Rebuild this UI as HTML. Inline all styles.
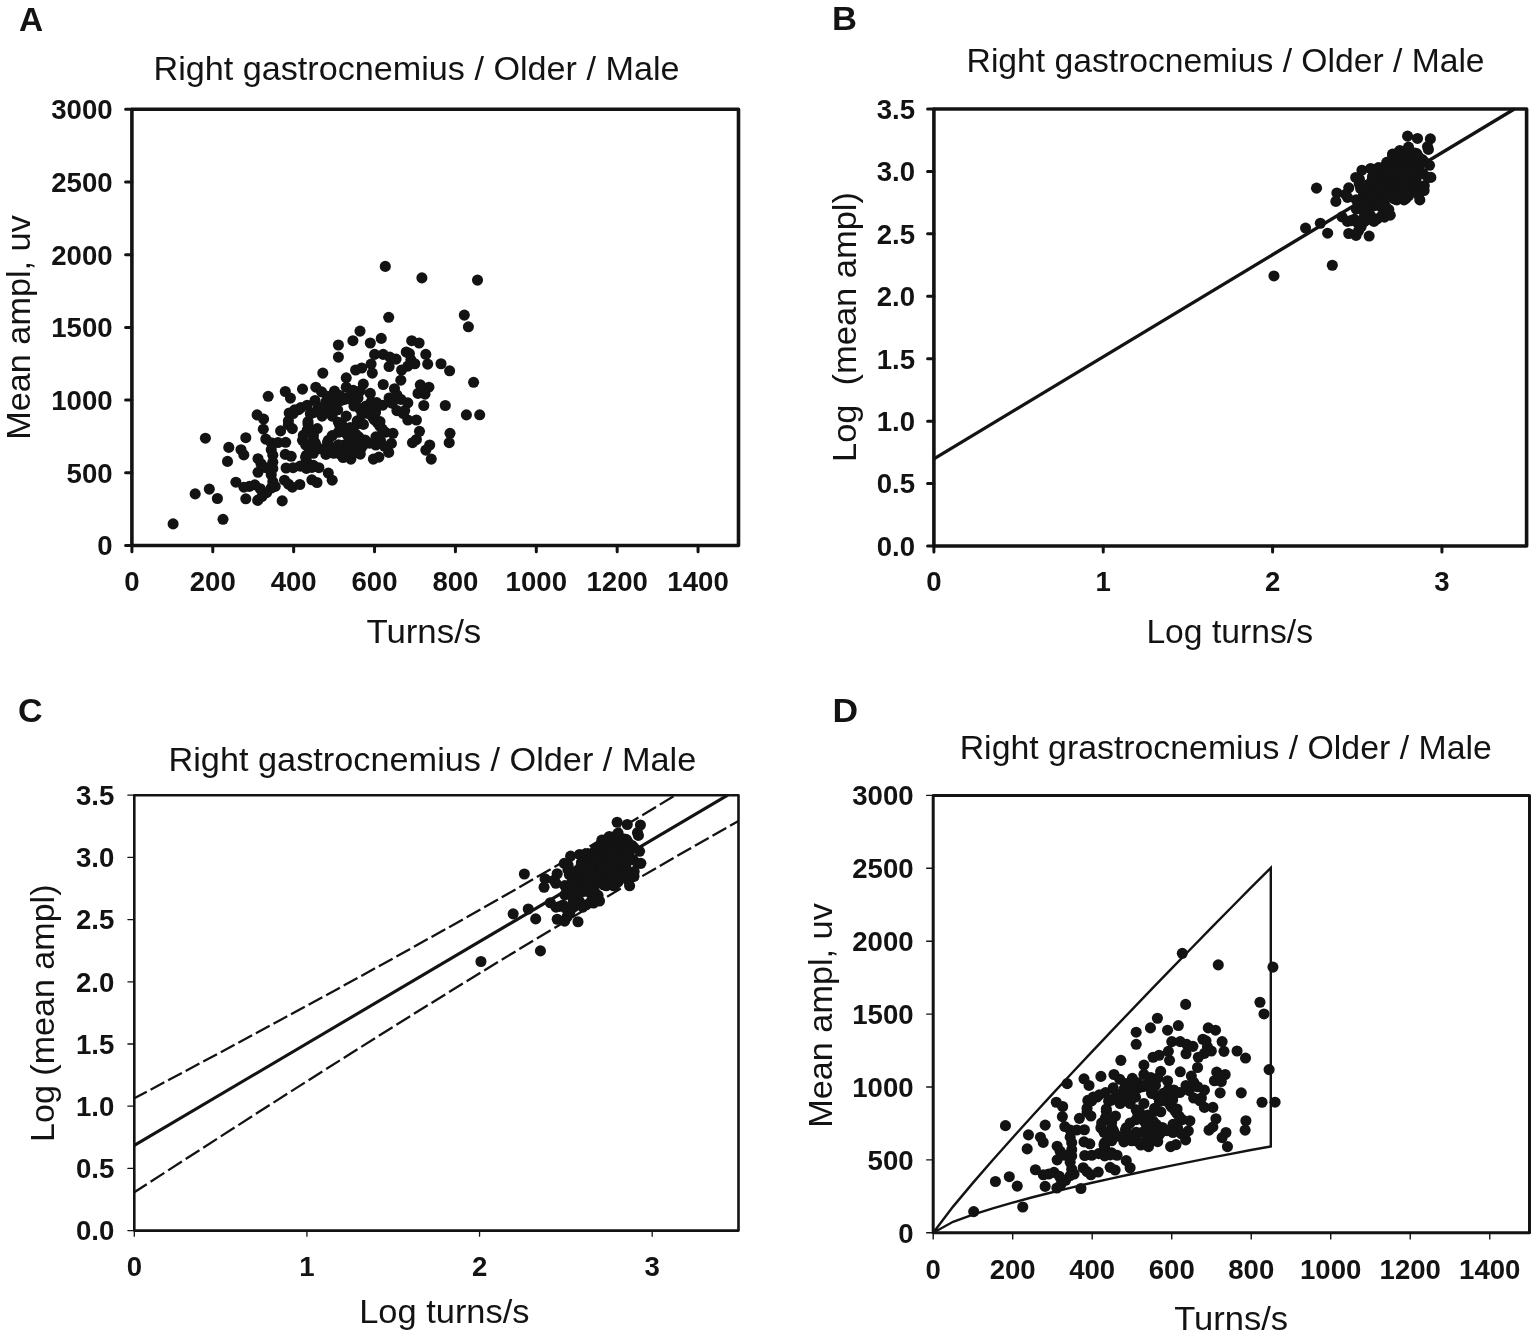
<!DOCTYPE html>
<html lang="en">
<head>
<meta charset="utf-8">
<title>Figure</title>
<style>
html,body{margin:0;padding:0;background:#fff;}
body{width:1536px;height:1336px;overflow:hidden;}
svg{display:block;}
svg text{font-family:"Liberation Sans",sans-serif;fill:#131313;}
</style>
</head>
<body>
<svg width="1536" height="1336" viewBox="0 0 1536 1336">
<rect width="1536" height="1336" fill="#ffffff"/>
<rect x="131.9" y="109.3" width="606.6" height="436.2" fill="none" stroke="#131313" stroke-width="3.6" stroke-linejoin="round"/>
<path d="M131.9 545.5h-6.3M131.9 472.8h-6.3M131.9 400.1h-6.3M131.9 327.4h-6.3M131.9 254.7h-6.3M131.9 182h-6.3M131.9 109.3h-6.3M131.9 545.5v6.3M212.78 545.5v6.3M293.66 545.5v6.3M374.54 545.5v6.3M455.42 545.5v6.3M536.3 545.5v6.3M617.18 545.5v6.3M698.06 545.5v6.3" fill="none" stroke="#131313" stroke-width="3.0" stroke-linecap="round"/>
<text x="112.6" y="555.35" font-size="27.6" font-weight="700" text-anchor="end" textLength="15.35" lengthAdjust="spacingAndGlyphs">0</text>
<text x="112.6" y="482.65" font-size="27.6" font-weight="700" text-anchor="end" textLength="46.05" lengthAdjust="spacingAndGlyphs">500</text>
<text x="112.6" y="409.95" font-size="27.6" font-weight="700" text-anchor="end" textLength="61.4" lengthAdjust="spacingAndGlyphs">1000</text>
<text x="112.6" y="337.25" font-size="27.6" font-weight="700" text-anchor="end" textLength="61.4" lengthAdjust="spacingAndGlyphs">1500</text>
<text x="112.6" y="264.55" font-size="27.6" font-weight="700" text-anchor="end" textLength="61.4" lengthAdjust="spacingAndGlyphs">2000</text>
<text x="112.6" y="191.85" font-size="27.6" font-weight="700" text-anchor="end" textLength="61.4" lengthAdjust="spacingAndGlyphs">2500</text>
<text x="112.6" y="119.15" font-size="27.6" font-weight="700" text-anchor="end" textLength="61.4" lengthAdjust="spacingAndGlyphs">3000</text>
<text x="131.9" y="590.9" font-size="27.6" font-weight="700" text-anchor="middle" textLength="15.35" lengthAdjust="spacingAndGlyphs">0</text>
<text x="212.78" y="590.9" font-size="27.6" font-weight="700" text-anchor="middle" textLength="46.05" lengthAdjust="spacingAndGlyphs">200</text>
<text x="293.66" y="590.9" font-size="27.6" font-weight="700" text-anchor="middle" textLength="46.05" lengthAdjust="spacingAndGlyphs">400</text>
<text x="374.54" y="590.9" font-size="27.6" font-weight="700" text-anchor="middle" textLength="46.05" lengthAdjust="spacingAndGlyphs">600</text>
<text x="455.42" y="590.9" font-size="27.6" font-weight="700" text-anchor="middle" textLength="46.05" lengthAdjust="spacingAndGlyphs">800</text>
<text x="536.3" y="590.9" font-size="27.6" font-weight="700" text-anchor="middle" textLength="61.4" lengthAdjust="spacingAndGlyphs">1000</text>
<text x="617.18" y="590.9" font-size="27.6" font-weight="700" text-anchor="middle" textLength="61.4" lengthAdjust="spacingAndGlyphs">1200</text>
<text x="698.06" y="590.9" font-size="27.6" font-weight="700" text-anchor="middle" textLength="61.4" lengthAdjust="spacingAndGlyphs">1400</text>
<g fill="#131313"><circle cx="173.1" cy="523.9" r="5.55"/><circle cx="223" cy="519.3" r="5.55"/><circle cx="195.2" cy="493.9" r="5.55"/><circle cx="209.3" cy="489.1" r="5.55"/><circle cx="217.4" cy="498.5" r="5.55"/><circle cx="205.4" cy="438.2" r="5.55"/><circle cx="228.8" cy="447.4" r="5.55"/><circle cx="227.5" cy="461.4" r="5.55"/><circle cx="245.8" cy="437.7" r="5.55"/><circle cx="241" cy="449.7" r="5.55"/><circle cx="243.8" cy="454.9" r="5.55"/><circle cx="268.2" cy="396.3" r="5.55"/><circle cx="257.1" cy="414.9" r="5.55"/><circle cx="263.6" cy="419.1" r="5.55"/><circle cx="263.3" cy="429.2" r="5.55"/><circle cx="235.9" cy="482.2" r="5.55"/><circle cx="245.8" cy="498.8" r="5.55"/><circle cx="257.7" cy="500.4" r="5.55"/><circle cx="265.8" cy="439.1" r="5.55"/><circle cx="271.25" cy="442.7" r="5.55"/><circle cx="278" cy="442.5" r="5.55"/><circle cx="285.7" cy="442.3" r="5.55"/><circle cx="280.6" cy="430.9" r="5.55"/><circle cx="288.4" cy="424.7" r="5.55"/><circle cx="292.3" cy="428.6" r="5.55"/><circle cx="271.25" cy="449.7" r="5.55"/><circle cx="272.8" cy="455.2" r="5.55"/><circle cx="258" cy="458.7" r="5.55"/><circle cx="261" cy="463.75" r="5.55"/><circle cx="258" cy="472.3" r="5.55"/><circle cx="265.8" cy="467.7" r="5.55"/><circle cx="272.8" cy="462.2" r="5.55"/><circle cx="272.8" cy="468.4" r="5.55"/><circle cx="271.25" cy="474.7" r="5.55"/><circle cx="285.3" cy="454.4" r="5.55"/><circle cx="291.2" cy="456.3" r="5.55"/><circle cx="286.1" cy="468" r="5.55"/><circle cx="293.1" cy="467.7" r="5.55"/><circle cx="300.2" cy="466.1" r="5.55"/><circle cx="306.4" cy="468.4" r="5.55"/><circle cx="306.4" cy="460.6" r="5.55"/><circle cx="306.4" cy="455.2" r="5.55"/><circle cx="313.4" cy="465.3" r="5.55"/><circle cx="318.9" cy="467.7" r="5.55"/><circle cx="328.3" cy="473.1" r="5.55"/><circle cx="332.2" cy="480.2" r="5.55"/><circle cx="311.9" cy="479.8" r="5.55"/><circle cx="317" cy="482.5" r="5.55"/><circle cx="284.5" cy="480.2" r="5.55"/><circle cx="288.4" cy="484.1" r="5.55"/><circle cx="292.3" cy="487.2" r="5.55"/><circle cx="299.8" cy="484.5" r="5.55"/><circle cx="282.2" cy="500.9" r="5.55"/><circle cx="261.9" cy="496.6" r="5.55"/><circle cx="266.6" cy="492.7" r="5.55"/><circle cx="271.25" cy="488" r="5.55"/><circle cx="275.2" cy="486.4" r="5.55"/><circle cx="272.8" cy="481.7" r="5.55"/><circle cx="254.8" cy="484.8" r="5.55"/><circle cx="249.4" cy="486.4" r="5.55"/><circle cx="243.9" cy="487.2" r="5.55"/><circle cx="260.3" cy="488.75" r="5.55"/><circle cx="302.5" cy="440.3" r="5.55"/><circle cx="307.2" cy="430.2" r="5.55"/><circle cx="317.3" cy="428.6" r="5.55"/><circle cx="308" cy="423.9" r="5.55"/><circle cx="315" cy="442.7" r="5.55"/><circle cx="309.5" cy="448.9" r="5.55"/><circle cx="328.3" cy="440.3" r="5.55"/><circle cx="332.2" cy="435.6" r="5.55"/><circle cx="325.9" cy="454.4" r="5.55"/><circle cx="333.75" cy="448.9" r="5.55"/><circle cx="343.1" cy="457.5" r="5.55"/><circle cx="350.9" cy="459.1" r="5.55"/><circle cx="354.8" cy="452.8" r="5.55"/><circle cx="349.4" cy="443.4" r="5.55"/><circle cx="341.6" cy="423.9" r="5.55"/><circle cx="357.2" cy="423.9" r="5.55"/><circle cx="450" cy="433.3" r="5.55"/><circle cx="449.2" cy="442.7" r="5.55"/><circle cx="419.5" cy="431.3" r="5.55"/><circle cx="412.5" cy="442.7" r="5.55"/><circle cx="416.4" cy="439.5" r="5.55"/><circle cx="429.7" cy="445" r="5.55"/><circle cx="425.8" cy="450.1" r="5.55"/><circle cx="431.25" cy="459.1" r="5.55"/><circle cx="373.4" cy="459.1" r="5.55"/><circle cx="378.9" cy="457.1" r="5.55"/><circle cx="388.7" cy="452.4" r="5.55"/><circle cx="391.4" cy="443.4" r="5.55"/><circle cx="393" cy="433.3" r="5.55"/><circle cx="407.8" cy="420" r="5.55"/><circle cx="416.4" cy="420" r="5.55"/><circle cx="375.8" cy="445" r="5.55"/><circle cx="361.7" cy="447.3" r="5.55"/><circle cx="285.3" cy="391.5" r="5.55"/><circle cx="290.4" cy="398.1" r="5.55"/><circle cx="302.5" cy="389.1" r="5.55"/><circle cx="315.8" cy="387.2" r="5.55"/><circle cx="321.6" cy="391.9" r="5.55"/><circle cx="322.8" cy="373.1" r="5.55"/><circle cx="338.4" cy="345" r="5.55"/><circle cx="338.4" cy="357.1" r="5.55"/><circle cx="352.9" cy="340.7" r="5.55"/><circle cx="360" cy="331.1" r="5.55"/><circle cx="346.25" cy="377.8" r="5.55"/><circle cx="355.6" cy="370" r="5.55"/><circle cx="334.5" cy="391.1" r="5.55"/><circle cx="346.25" cy="387.2" r="5.55"/><circle cx="353.3" cy="390.3" r="5.55"/><circle cx="315" cy="400.5" r="5.55"/><circle cx="307.2" cy="405.2" r="5.55"/><circle cx="300.9" cy="407.5" r="5.55"/><circle cx="294.7" cy="409.8" r="5.55"/><circle cx="289.2" cy="413" r="5.55"/><circle cx="288.4" cy="420.8" r="5.55"/><circle cx="308" cy="421.6" r="5.55"/><circle cx="310.3" cy="413.75" r="5.55"/><circle cx="318.1" cy="408.3" r="5.55"/><circle cx="325.9" cy="402" r="5.55"/><circle cx="322" cy="416.1" r="5.55"/><circle cx="332.2" cy="416.1" r="5.55"/><circle cx="337.7" cy="409.8" r="5.55"/><circle cx="340.8" cy="400.5" r="5.55"/><circle cx="346.25" cy="416.1" r="5.55"/><circle cx="349.4" cy="396.6" r="5.55"/><circle cx="355.6" cy="398.1" r="5.55"/><circle cx="357.2" cy="420.8" r="5.55"/><circle cx="359.5" cy="408.3" r="5.55"/><circle cx="338.4" cy="422.3" r="5.55"/><circle cx="370.3" cy="343" r="5.55"/><circle cx="381.25" cy="338.4" r="5.55"/><circle cx="388.7" cy="317.3" r="5.55"/><circle cx="411.7" cy="340.7" r="5.55"/><circle cx="419.1" cy="343" r="5.55"/><circle cx="468.4" cy="326.8" r="5.55"/><circle cx="374.6" cy="354.4" r="5.55"/><circle cx="383.2" cy="354.4" r="5.55"/><circle cx="389.8" cy="357.1" r="5.55"/><circle cx="396.1" cy="359.1" r="5.55"/><circle cx="389.1" cy="366.5" r="5.55"/><circle cx="371.1" cy="364.1" r="5.55"/><circle cx="372.3" cy="373.1" r="5.55"/><circle cx="361.7" cy="368" r="5.55"/><circle cx="406.25" cy="352" r="5.55"/><circle cx="409.4" cy="353.6" r="5.55"/><circle cx="410.9" cy="359.8" r="5.55"/><circle cx="414.8" cy="363.75" r="5.55"/><circle cx="407.8" cy="366.1" r="5.55"/><circle cx="401.6" cy="370" r="5.55"/><circle cx="400.8" cy="380.2" r="5.55"/><circle cx="425.8" cy="354.4" r="5.55"/><circle cx="427.7" cy="364.1" r="5.55"/><circle cx="441" cy="363.75" r="5.55"/><circle cx="449.6" cy="370.8" r="5.55"/><circle cx="383.2" cy="384.5" r="5.55"/><circle cx="363.3" cy="384.1" r="5.55"/><circle cx="420.3" cy="384.8" r="5.55"/><circle cx="428.9" cy="387.2" r="5.55"/><circle cx="418" cy="393.4" r="5.55"/><circle cx="425" cy="394.2" r="5.55"/><circle cx="423.8" cy="405.5" r="5.55"/><circle cx="445.3" cy="405.5" r="5.55"/><circle cx="466.4" cy="414.9" r="5.55"/><circle cx="473.6" cy="382.3" r="5.55"/><circle cx="394.5" cy="388.75" r="5.55"/><circle cx="396.9" cy="395" r="5.55"/><circle cx="389.1" cy="398.1" r="5.55"/><circle cx="382.8" cy="405.2" r="5.55"/><circle cx="370.3" cy="393.4" r="5.55"/><circle cx="407.8" cy="402.8" r="5.55"/><circle cx="404.7" cy="410.6" r="5.55"/><circle cx="396.9" cy="410.6" r="5.55"/><circle cx="358" cy="398" r="5.55"/><circle cx="354" cy="406" r="5.55"/><circle cx="366" cy="406" r="5.55"/><circle cx="362" cy="414" r="5.55"/><circle cx="373" cy="417.7" r="5.55"/><circle cx="380" cy="421.6" r="5.55"/><circle cx="385.3" cy="266.4" r="5.55"/><circle cx="421.9" cy="277.9" r="5.55"/><circle cx="477.5" cy="280.1" r="5.55"/><circle cx="464.3" cy="315.1" r="5.55"/><circle cx="479.7" cy="414.8" r="5.55"/><circle cx="403.3" cy="413.5" r="5.55"/><circle cx="350.9" cy="399.4" r="5.55"/><circle cx="298.6" cy="409.6" r="5.55"/><circle cx="293.1" cy="413.5" r="5.55"/><circle cx="313.4" cy="412.7" r="5.55"/><circle cx="363.4" cy="424.4" r="5.55"/><circle cx="368.1" cy="413.5" r="5.55"/><circle cx="374.4" cy="419.75" r="5.55"/><circle cx="379.8" cy="426" r="5.55"/><circle cx="385.3" cy="432.25" r="5.55"/><circle cx="375.9" cy="436.9" r="5.55"/><circle cx="365" cy="440" r="5.55"/><circle cx="333.75" cy="453.3" r="5.55"/><circle cx="319.7" cy="448.7" r="5.55"/><circle cx="313.4" cy="453.3" r="5.55"/><circle cx="305.6" cy="457.25" r="5.55"/><circle cx="313.4" cy="440.1" r="5.55"/><circle cx="310.3" cy="446.3" r="5.55"/><circle cx="327.5" cy="442.4" r="5.55"/><circle cx="343.1" cy="429.1" r="5.55"/><circle cx="347.8" cy="435.4" r="5.55"/><circle cx="358.75" cy="436.9" r="5.55"/><circle cx="311.9" cy="467.4" r="5.55"/><circle cx="330.6" cy="397.1" r="5.55"/><circle cx="340" cy="395.5" r="5.55"/><circle cx="326.7" cy="408.8" r="5.55"/><circle cx="333.75" cy="410.4" r="5.55"/><circle cx="321.25" cy="407.25" r="5.55"/><circle cx="344.7" cy="399.4" r="5.55"/><circle cx="365" cy="411.2" r="5.55"/><circle cx="377.5" cy="422.9" r="5.55"/><circle cx="382.2" cy="429.1" r="5.55"/><circle cx="371.25" cy="401.8" r="5.55"/><circle cx="375.9" cy="408.8" r="5.55"/><circle cx="340" cy="426" r="5.55"/><circle cx="344.7" cy="432.25" r="5.55"/><circle cx="338.4" cy="432.25" r="5.55"/><circle cx="349.4" cy="438.5" r="5.55"/><circle cx="355.6" cy="443.2" r="5.55"/><circle cx="344.7" cy="444.75" r="5.55"/><circle cx="338.4" cy="444.75" r="5.55"/><circle cx="350.9" cy="448.7" r="5.55"/><circle cx="357.2" cy="449.4" r="5.55"/><circle cx="363.4" cy="444.75" r="5.55"/><circle cx="369.7" cy="443.2" r="5.55"/><circle cx="360.3" cy="454.1" r="5.55"/><circle cx="347.8" cy="454.1" r="5.55"/><circle cx="340" cy="454.1" r="5.55"/><circle cx="329.1" cy="446.3" r="5.55"/><circle cx="324.4" cy="449.4" r="5.55"/><circle cx="305.6" cy="444.75" r="5.55"/><circle cx="315.8" cy="444.75" r="5.55"/><circle cx="310.3" cy="430.7" r="5.55"/><circle cx="313.4" cy="435.4" r="5.55"/><circle cx="303.3" cy="435.4" r="5.55"/><circle cx="380.6" cy="440.8" r="5.55"/><circle cx="384.5" cy="446.3" r="5.55"/><circle cx="375.5" cy="412.5" r="5.55"/><circle cx="423.4" cy="389.9" r="5.55"/><circle cx="327.5" cy="396.3" r="5.55"/><circle cx="333.75" cy="401.8" r="5.55"/><circle cx="360.3" cy="390.8" r="5.55"/><circle cx="392.3" cy="403.3" r="5.55"/><circle cx="400.9" cy="399.4" r="5.55"/><circle cx="376.7" cy="402.6" r="5.55"/><circle cx="350.2" cy="427.6" r="5.55"/><circle cx="355.6" cy="433.8" r="5.55"/></g>
<text x="19" y="30.6" font-size="33.4" font-weight="700">A</text>
<text x="153.5" y="80" font-size="32.6" textLength="526" lengthAdjust="spacingAndGlyphs">Right gastrocnemius / Older / Male</text>
<text x="366.4" y="642.8" font-size="33.2" textLength="114.9" lengthAdjust="spacingAndGlyphs">Turns/s</text>
<text transform="translate(29.6 439.8) rotate(-90)" font-size="33.2" textLength="224.6" lengthAdjust="spacingAndGlyphs">Mean ampl, uv</text>
<rect x="933.9" y="109" width="592.7" height="437" fill="none" stroke="#131313" stroke-width="3.6" stroke-linejoin="round"/>
<path d="M933.9 546h-6.3M933.9 483.57h-6.3M933.9 421.14h-6.3M933.9 358.71h-6.3M933.9 296.29h-6.3M933.9 233.86h-6.3M933.9 171.43h-6.3M933.9 109h-6.3M933.9 546v6.1M1103.24 546v6.1M1272.59 546v6.1M1441.93 546v6.1" fill="none" stroke="#131313" stroke-width="3.0" stroke-linecap="round"/>
<text x="915.1" y="555.85" font-size="27.6" font-weight="700" text-anchor="end" textLength="38.37" lengthAdjust="spacingAndGlyphs">0.0</text>
<text x="915.1" y="493.42" font-size="27.6" font-weight="700" text-anchor="end" textLength="38.37" lengthAdjust="spacingAndGlyphs">0.5</text>
<text x="915.1" y="430.99" font-size="27.6" font-weight="700" text-anchor="end" textLength="38.37" lengthAdjust="spacingAndGlyphs">1.0</text>
<text x="915.1" y="368.56" font-size="27.6" font-weight="700" text-anchor="end" textLength="38.37" lengthAdjust="spacingAndGlyphs">1.5</text>
<text x="915.1" y="306.14" font-size="27.6" font-weight="700" text-anchor="end" textLength="38.37" lengthAdjust="spacingAndGlyphs">2.0</text>
<text x="915.1" y="243.71" font-size="27.6" font-weight="700" text-anchor="end" textLength="38.37" lengthAdjust="spacingAndGlyphs">2.5</text>
<text x="915.1" y="181.28" font-size="27.6" font-weight="700" text-anchor="end" textLength="38.37" lengthAdjust="spacingAndGlyphs">3.0</text>
<text x="915.1" y="118.85" font-size="27.6" font-weight="700" text-anchor="end" textLength="38.37" lengthAdjust="spacingAndGlyphs">3.5</text>
<text x="933.9" y="590.9" font-size="27.6" font-weight="700" text-anchor="middle" textLength="15.35" lengthAdjust="spacingAndGlyphs">0</text>
<text x="1103.24" y="590.9" font-size="27.6" font-weight="700" text-anchor="middle" textLength="15.35" lengthAdjust="spacingAndGlyphs">1</text>
<text x="1272.59" y="590.9" font-size="27.6" font-weight="700" text-anchor="middle" textLength="15.35" lengthAdjust="spacingAndGlyphs">2</text>
<text x="1441.93" y="590.9" font-size="27.6" font-weight="700" text-anchor="middle" textLength="15.35" lengthAdjust="spacingAndGlyphs">3</text>
<g fill="#131313"><circle cx="1273.96" cy="275.94" r="5.55"/><circle cx="1332.31" cy="265.27" r="5.55"/><circle cx="1305.54" cy="228.07" r="5.55"/><circle cx="1320.33" cy="223.21" r="5.55"/><circle cx="1327.65" cy="233.18" r="5.55"/><circle cx="1316.53" cy="188.13" r="5.55"/><circle cx="1336.85" cy="193.01" r="5.55"/><circle cx="1335.86" cy="201.4" r="5.55"/><circle cx="1348.74" cy="187.87" r="5.55"/><circle cx="1345.57" cy="194.3" r="5.55"/><circle cx="1347.44" cy="197.34" r="5.55"/><circle cx="1361.95" cy="170.19" r="5.55"/><circle cx="1355.7" cy="177.43" r="5.55"/><circle cx="1359.42" cy="179.21" r="5.55"/><circle cx="1359.25" cy="183.74" r="5.55"/><circle cx="1342.05" cy="216.9" r="5.55"/><circle cx="1348.74" cy="233.53" r="5.55"/><circle cx="1356.05" cy="235.44" r="5.55"/><circle cx="1360.64" cy="188.59" r="5.55"/><circle cx="1363.57" cy="190.46" r="5.55"/><circle cx="1367.05" cy="190.36" r="5.55"/><circle cx="1370.83" cy="190.25" r="5.55"/><circle cx="1368.35" cy="184.54" r="5.55"/><circle cx="1372.11" cy="181.68" r="5.55"/><circle cx="1373.92" cy="183.46" r="5.55"/><circle cx="1363.57" cy="194.3" r="5.55"/><circle cx="1364.39" cy="197.52" r="5.55"/><circle cx="1356.22" cy="199.68" r="5.55"/><circle cx="1357.95" cy="202.95" r="5.55"/><circle cx="1356.22" cy="208.97" r="5.55"/><circle cx="1360.64" cy="205.65" r="5.55"/><circle cx="1364.39" cy="201.92" r="5.55"/><circle cx="1364.39" cy="206.14" r="5.55"/><circle cx="1363.57" cy="210.79" r="5.55"/><circle cx="1370.64" cy="197.04" r="5.55"/><circle cx="1373.41" cy="198.19" r="5.55"/><circle cx="1371.02" cy="205.86" r="5.55"/><circle cx="1374.29" cy="205.65" r="5.55"/><circle cx="1377.46" cy="204.54" r="5.55"/><circle cx="1380.12" cy="206.14" r="5.55"/><circle cx="1380.12" cy="200.88" r="5.55"/><circle cx="1380.12" cy="197.52" r="5.55"/><circle cx="1383.01" cy="203.99" r="5.55"/><circle cx="1385.2" cy="205.65" r="5.55"/><circle cx="1388.81" cy="209.57" r="5.55"/><circle cx="1390.26" cy="215.2" r="5.55"/><circle cx="1382.4" cy="214.87" r="5.55"/><circle cx="1384.45" cy="217.16" r="5.55"/><circle cx="1370.25" cy="215.2" r="5.55"/><circle cx="1372.11" cy="218.56" r="5.55"/><circle cx="1373.92" cy="221.39" r="5.55"/><circle cx="1377.28" cy="218.92" r="5.55"/><circle cx="1369.14" cy="236.05" r="5.55"/><circle cx="1358.46" cy="231.01" r="5.55"/><circle cx="1361.08" cy="226.81" r="5.55"/><circle cx="1363.57" cy="222.15" r="5.55"/><circle cx="1365.63" cy="220.65" r="5.55"/><circle cx="1364.39" cy="216.47" r="5.55"/><circle cx="1354.33" cy="219.19" r="5.55"/><circle cx="1351.03" cy="220.65" r="5.55"/><circle cx="1347.5" cy="221.39" r="5.55"/><circle cx="1357.55" cy="222.87" r="5.55"/><circle cx="1378.45" cy="189.2" r="5.55"/><circle cx="1380.45" cy="184.21" r="5.55"/><circle cx="1384.57" cy="183.46" r="5.55"/><circle cx="1380.79" cy="181.32" r="5.55"/><circle cx="1383.65" cy="190.46" r="5.55"/><circle cx="1381.41" cy="193.85" r="5.55"/><circle cx="1388.81" cy="189.2" r="5.55"/><circle cx="1390.26" cy="186.82" r="5.55"/><circle cx="1387.91" cy="197.04" r="5.55"/><circle cx="1390.82" cy="193.85" r="5.55"/><circle cx="1394.15" cy="198.93" r="5.55"/><circle cx="1396.82" cy="199.93" r="5.55"/><circle cx="1398.12" cy="196.09" r="5.55"/><circle cx="1396.32" cy="190.83" r="5.55"/><circle cx="1393.63" cy="181.32" r="5.55"/><circle cx="1398.91" cy="181.32" r="5.55"/><circle cx="1424.28" cy="185.7" r="5.55"/><circle cx="1424.09" cy="190.46" r="5.55"/><circle cx="1416.86" cy="184.74" r="5.55"/><circle cx="1415.05" cy="190.46" r="5.55"/><circle cx="1416.07" cy="188.79" r="5.55"/><circle cx="1419.43" cy="191.69" r="5.55"/><circle cx="1418.46" cy="194.53" r="5.55"/><circle cx="1419.81" cy="199.93" r="5.55"/><circle cx="1404.01" cy="199.93" r="5.55"/><circle cx="1405.67" cy="198.68" r="5.55"/><circle cx="1408.53" cy="195.86" r="5.55"/><circle cx="1409.3" cy="190.83" r="5.55"/><circle cx="1409.75" cy="185.7" r="5.55"/><circle cx="1413.81" cy="179.6" r="5.55"/><circle cx="1416.07" cy="179.6" r="5.55"/><circle cx="1404.74" cy="191.69" r="5.55"/><circle cx="1400.36" cy="192.95" r="5.55"/><circle cx="1370.64" cy="168.47" r="5.55"/><circle cx="1373.04" cy="170.85" r="5.55"/><circle cx="1378.45" cy="167.63" r="5.55"/><circle cx="1383.97" cy="166.97" r="5.55"/><circle cx="1386.26" cy="168.61" r="5.55"/><circle cx="1386.72" cy="162.33" r="5.55"/><circle cx="1392.5" cy="154.12" r="5.55"/><circle cx="1392.5" cy="157.51" r="5.55"/><circle cx="1397.49" cy="152.97" r="5.55"/><circle cx="1399.82" cy="150.48" r="5.55"/><circle cx="1395.24" cy="163.83" r="5.55"/><circle cx="1398.38" cy="161.36" r="5.55"/><circle cx="1391.1" cy="168.33" r="5.55"/><circle cx="1395.24" cy="166.97" r="5.55"/><circle cx="1397.62" cy="168.05" r="5.55"/><circle cx="1383.65" cy="171.74" r="5.55"/><circle cx="1380.45" cy="173.54" r="5.55"/><circle cx="1377.76" cy="174.43" r="5.55"/><circle cx="1375.01" cy="175.35" r="5.55"/><circle cx="1372.48" cy="176.65" r="5.55"/><circle cx="1372.11" cy="179.95" r="5.55"/><circle cx="1380.79" cy="180.3" r="5.55"/><circle cx="1381.74" cy="176.96" r="5.55"/><circle cx="1384.89" cy="174.75" r="5.55"/><circle cx="1387.91" cy="172.31" r="5.55"/><circle cx="1386.41" cy="177.93" r="5.55"/><circle cx="1390.26" cy="177.93" r="5.55"/><circle cx="1392.25" cy="175.35" r="5.55"/><circle cx="1393.35" cy="171.74" r="5.55"/><circle cx="1395.24" cy="177.93" r="5.55"/><circle cx="1396.32" cy="170.3" r="5.55"/><circle cx="1398.38" cy="170.85" r="5.55"/><circle cx="1398.91" cy="179.95" r="5.55"/><circle cx="1399.65" cy="174.75" r="5.55"/><circle cx="1392.5" cy="180.61" r="5.55"/><circle cx="1403.06" cy="153.58" r="5.55"/><circle cx="1406.37" cy="152.36" r="5.55"/><circle cx="1408.53" cy="147.09" r="5.55"/><circle cx="1414.84" cy="152.97" r="5.55"/><circle cx="1416.76" cy="153.58" r="5.55"/><circle cx="1428.41" cy="149.4" r="5.55"/><circle cx="1404.38" cy="156.73" r="5.55"/><circle cx="1406.94" cy="156.73" r="5.55"/><circle cx="1408.85" cy="157.51" r="5.55"/><circle cx="1410.62" cy="158.09" r="5.55"/><circle cx="1408.65" cy="160.29" r="5.55"/><circle cx="1403.31" cy="159.56" r="5.55"/><circle cx="1403.68" cy="162.33" r="5.55"/><circle cx="1400.36" cy="160.75" r="5.55"/><circle cx="1413.39" cy="156.06" r="5.55"/><circle cx="1414.23" cy="156.51" r="5.55"/><circle cx="1414.63" cy="158.29" r="5.55"/><circle cx="1415.65" cy="159.46" r="5.55"/><circle cx="1413.81" cy="160.17" r="5.55"/><circle cx="1412.14" cy="161.36" r="5.55"/><circle cx="1411.92" cy="164.62" r="5.55"/><circle cx="1418.46" cy="156.73" r="5.55"/><circle cx="1418.93" cy="159.56" r="5.55"/><circle cx="1422.16" cy="159.46" r="5.55"/><circle cx="1424.18" cy="161.61" r="5.55"/><circle cx="1406.94" cy="166.05" r="5.55"/><circle cx="1400.87" cy="165.92" r="5.55"/><circle cx="1417.07" cy="166.15" r="5.55"/><circle cx="1419.23" cy="166.97" r="5.55"/><circle cx="1416.48" cy="169.14" r="5.55"/><circle cx="1418.26" cy="169.43" r="5.55"/><circle cx="1417.95" cy="173.65" r="5.55"/><circle cx="1423.18" cy="173.65" r="5.55"/><circle cx="1427.97" cy="177.43" r="5.55"/><circle cx="1429.54" cy="165.31" r="5.55"/><circle cx="1410.17" cy="167.51" r="5.55"/><circle cx="1410.84" cy="169.72" r="5.55"/><circle cx="1408.65" cy="170.85" r="5.55"/><circle cx="1406.82" cy="173.54" r="5.55"/><circle cx="1403.06" cy="169.14" r="5.55"/><circle cx="1413.81" cy="172.61" r="5.55"/><circle cx="1412.98" cy="175.67" r="5.55"/><circle cx="1410.84" cy="175.67" r="5.55"/><circle cx="1399.17" cy="170.81" r="5.55"/><circle cx="1397.85" cy="173.85" r="5.55"/><circle cx="1401.72" cy="173.85" r="5.55"/><circle cx="1400.46" cy="177.06" r="5.55"/><circle cx="1403.89" cy="178.61" r="5.55"/><circle cx="1406" cy="180.3" r="5.55"/><circle cx="1407.55" cy="136.16" r="5.55"/><circle cx="1417.47" cy="138.44" r="5.55"/><circle cx="1430.37" cy="138.89" r="5.55"/><circle cx="1427.51" cy="146.57" r="5.55"/><circle cx="1430.84" cy="177.39" r="5.55"/><circle cx="1412.6" cy="176.85" r="5.55"/><circle cx="1396.82" cy="171.33" r="5.55"/><circle cx="1376.75" cy="175.27" r="5.55"/><circle cx="1374.29" cy="176.85" r="5.55"/><circle cx="1383.01" cy="176.52" r="5.55"/><circle cx="1400.9" cy="181.54" r="5.55"/><circle cx="1402.38" cy="176.85" r="5.55"/><circle cx="1404.32" cy="179.49" r="5.55"/><circle cx="1405.94" cy="182.27" r="5.55"/><circle cx="1407.55" cy="185.19" r="5.55"/><circle cx="1404.77" cy="187.47" r="5.55"/><circle cx="1401.41" cy="189.05" r="5.55"/><circle cx="1390.82" cy="196.39" r="5.55"/><circle cx="1385.52" cy="193.74" r="5.55"/><circle cx="1383.01" cy="196.39" r="5.55"/><circle cx="1379.78" cy="198.77" r="5.55"/><circle cx="1383.01" cy="189.1" r="5.55"/><circle cx="1381.74" cy="192.4" r="5.55"/><circle cx="1388.51" cy="190.3" r="5.55"/><circle cx="1394.15" cy="183.7" r="5.55"/><circle cx="1395.77" cy="186.73" r="5.55"/><circle cx="1399.41" cy="187.47" r="5.55"/><circle cx="1382.4" cy="205.44" r="5.55"/><circle cx="1389.67" cy="170.48" r="5.55"/><circle cx="1393.07" cy="169.9" r="5.55"/><circle cx="1388.21" cy="174.95" r="5.55"/><circle cx="1390.82" cy="175.59" r="5.55"/><circle cx="1386.12" cy="174.34" r="5.55"/><circle cx="1394.71" cy="171.33" r="5.55"/><circle cx="1401.41" cy="175.91" r="5.55"/><circle cx="1405.25" cy="180.87" r="5.55"/><circle cx="1406.65" cy="183.7" r="5.55"/><circle cx="1403.36" cy="172.23" r="5.55"/><circle cx="1404.77" cy="174.95" r="5.55"/><circle cx="1393.07" cy="182.27" r="5.55"/><circle cx="1394.71" cy="185.19" r="5.55"/><circle cx="1392.5" cy="185.19" r="5.55"/><circle cx="1396.32" cy="188.28" r="5.55"/><circle cx="1398.38" cy="190.73" r="5.55"/><circle cx="1394.71" cy="191.56" r="5.55"/><circle cx="1392.5" cy="191.56" r="5.55"/><circle cx="1396.82" cy="193.74" r="5.55"/><circle cx="1398.91" cy="194.13" r="5.55"/><circle cx="1400.9" cy="191.56" r="5.55"/><circle cx="1402.88" cy="190.73" r="5.55"/><circle cx="1399.91" cy="196.86" r="5.55"/><circle cx="1395.77" cy="196.86" r="5.55"/><circle cx="1393.07" cy="196.86" r="5.55"/><circle cx="1389.11" cy="192.4" r="5.55"/><circle cx="1387.34" cy="194.13" r="5.55"/><circle cx="1379.78" cy="191.56" r="5.55"/><circle cx="1383.97" cy="191.56" r="5.55"/><circle cx="1381.74" cy="184.45" r="5.55"/><circle cx="1383.01" cy="186.73" r="5.55"/><circle cx="1378.8" cy="186.73" r="5.55"/><circle cx="1406.17" cy="189.46" r="5.55"/><circle cx="1407.32" cy="192.4" r="5.55"/><circle cx="1404.65" cy="176.44" r="5.55"/><circle cx="1417.85" cy="167.91" r="5.55"/><circle cx="1388.51" cy="170.19" r="5.55"/><circle cx="1390.82" cy="172.23" r="5.55"/><circle cx="1399.91" cy="168.22" r="5.55"/><circle cx="1409.56" cy="172.8" r="5.55"/><circle cx="1411.94" cy="171.33" r="5.55"/><circle cx="1405.01" cy="172.54" r="5.55"/><circle cx="1396.59" cy="183" r="5.55"/><circle cx="1398.38" cy="185.94" r="5.55"/></g>
<path d="M933.9 458.85L1514.4 109" stroke="#131313" stroke-width="3.3" fill="none"/>
<text x="832" y="30.4" font-size="33.4" font-weight="700" textLength="25" lengthAdjust="spacingAndGlyphs">B</text>
<text x="966.6" y="72.3" font-size="32.6" textLength="518" lengthAdjust="spacingAndGlyphs">Right gastrocnemius / Older / Male</text>
<text x="1146.4" y="643" font-size="33.2" textLength="166.6" lengthAdjust="spacingAndGlyphs">Log turns/s</text>
<text transform="translate(855.9 462) rotate(-90)" font-size="33.2" textLength="270" lengthAdjust="spacingAndGlyphs" style="white-space:pre">Log  (mean ampl)</text>
<rect x="134.3" y="795.2" width="604.2" height="435.4" fill="none" stroke="#131313" stroke-width="2.6" stroke-linejoin="round"/>
<path d="M134.3 1230.6h-6.4M134.3 1168.4h-6.4M134.3 1106.2h-6.4M134.3 1044h-6.4M134.3 981.8h-6.4M134.3 919.6h-6.4M134.3 857.4h-6.4M134.3 795.2h-6.4M134.3 1230.6v5.6M306.93 1230.6v5.6M479.56 1230.6v5.6M652.19 1230.6v5.6" fill="none" stroke="#131313" stroke-width="1.3" stroke-linecap="round"/>
<text x="114.4" y="1240.45" font-size="27.6" font-weight="700" text-anchor="end" textLength="38.37" lengthAdjust="spacingAndGlyphs">0.0</text>
<text x="114.4" y="1178.25" font-size="27.6" font-weight="700" text-anchor="end" textLength="38.37" lengthAdjust="spacingAndGlyphs">0.5</text>
<text x="114.4" y="1116.05" font-size="27.6" font-weight="700" text-anchor="end" textLength="38.37" lengthAdjust="spacingAndGlyphs">1.0</text>
<text x="114.4" y="1053.85" font-size="27.6" font-weight="700" text-anchor="end" textLength="38.37" lengthAdjust="spacingAndGlyphs">1.5</text>
<text x="114.4" y="991.65" font-size="27.6" font-weight="700" text-anchor="end" textLength="38.37" lengthAdjust="spacingAndGlyphs">2.0</text>
<text x="114.4" y="929.45" font-size="27.6" font-weight="700" text-anchor="end" textLength="38.37" lengthAdjust="spacingAndGlyphs">2.5</text>
<text x="114.4" y="867.25" font-size="27.6" font-weight="700" text-anchor="end" textLength="38.37" lengthAdjust="spacingAndGlyphs">3.0</text>
<text x="114.4" y="805.05" font-size="27.6" font-weight="700" text-anchor="end" textLength="38.37" lengthAdjust="spacingAndGlyphs">3.5</text>
<text x="134.3" y="1276" font-size="27.6" font-weight="700" text-anchor="middle" textLength="15.35" lengthAdjust="spacingAndGlyphs">0</text>
<text x="306.93" y="1276" font-size="27.6" font-weight="700" text-anchor="middle" textLength="15.35" lengthAdjust="spacingAndGlyphs">1</text>
<text x="479.56" y="1276" font-size="27.6" font-weight="700" text-anchor="middle" textLength="15.35" lengthAdjust="spacingAndGlyphs">2</text>
<text x="652.19" y="1276" font-size="27.6" font-weight="700" text-anchor="middle" textLength="15.35" lengthAdjust="spacingAndGlyphs">3</text>
<path d="M134.3 1098.29L146.75 1091.67M150.56 1089.65L164.31 1082.33M168.12 1080.3L181.87 1072.97M185.68 1070.93L199.43 1063.59M203.24 1061.55L216.99 1054.18M220.8 1052.14L234.55 1044.76M238.36 1042.71L252.11 1035.31M255.92 1033.26L269.67 1025.84M273.48 1023.78L287.23 1016.34M291.04 1014.27L304.79 1006.81M308.6 1004.74L322.35 997.25M326.16 995.17L339.91 987.66M343.72 985.57L357.47 978.03M361.28 975.93L375.03 968.36M378.84 966.26L392.59 958.66M396.4 956.54L410.15 948.91M413.96 946.79L427.71 939.12M431.52 936.99L445.27 929.28M449.08 927.14L462.83 919.39M466.64 917.24L480.39 909.45M484.2 907.29L497.95 899.46M501.76 897.29L515.51 889.42M519.32 887.23L533.07 879.31M536.88 877.11L550.63 869.15M554.44 866.94L568.19 858.93M572 856.71L585.75 848.65M589.56 846.41L603.31 838.31M607.12 836.06L620.87 827.91M624.68 825.65L638.43 817.45M642.24 815.17L655.99 806.93M659.8 804.64L673.55 796.35" stroke="#131313" stroke-width="2.3" fill="none"/>
<path d="M134.3 1192.31L146.75 1184.24M150.56 1181.77L164.31 1172.86M168.12 1170.4L181.87 1161.51M185.68 1159.04L199.43 1150.17M203.24 1147.71L216.99 1138.85M220.8 1136.4L234.55 1127.56M238.36 1125.11L252.11 1116.29M255.92 1113.84L269.67 1105.04M273.48 1102.6L287.23 1093.82M291.04 1091.39L304.79 1082.63M308.6 1080.21L322.35 1071.47M326.16 1069.06L339.91 1060.35M343.72 1057.94L357.47 1049.26M361.28 1046.86L375.03 1038.21M378.84 1035.81L392.59 1027.19M396.4 1024.81L410.15 1016.22M413.96 1013.85L427.71 1005.3M431.52 1002.93L445.27 994.42M449.08 992.06L462.83 983.58M466.64 981.24L480.39 972.8M484.2 970.47L497.95 962.08M501.76 959.75L515.51 951.4M519.32 949.09L533.07 940.79M536.88 938.49L550.63 930.23M554.44 927.95L568.19 919.73M572 917.46L585.75 909.29M589.56 907.03L603.31 898.91M607.12 896.67L620.87 888.6M624.68 886.36L638.43 878.34M642.24 876.12L655.99 868.14M659.8 865.94L673.55 858M677.36 855.81L691.11 847.92M694.92 845.74L708.67 837.9M712.48 835.73L726.23 827.92M730.04 825.77L738.5 820.99" stroke="#131313" stroke-width="2.3" fill="none"/>
<path d="M134.3 1145.3L727.75 795.2" stroke="#131313" stroke-width="3.1" fill="none"/>
<g fill="#131313"><circle cx="480.95" cy="961.53" r="5.55"/><circle cx="540.44" cy="950.9" r="5.55"/><circle cx="513.15" cy="913.83" r="5.55"/><circle cx="528.23" cy="908.99" r="5.55"/><circle cx="535.69" cy="918.92" r="5.55"/><circle cx="524.35" cy="874.04" r="5.55"/><circle cx="545.07" cy="878.9" r="5.55"/><circle cx="544.06" cy="887.26" r="5.55"/><circle cx="557.19" cy="873.79" r="5.55"/><circle cx="553.96" cy="880.19" r="5.55"/><circle cx="555.86" cy="883.22" r="5.55"/><circle cx="570.65" cy="856.17" r="5.55"/><circle cx="564.28" cy="863.38" r="5.55"/><circle cx="568.08" cy="865.15" r="5.55"/><circle cx="567.91" cy="869.67" r="5.55"/><circle cx="550.37" cy="902.71" r="5.55"/><circle cx="557.19" cy="919.27" r="5.55"/><circle cx="564.64" cy="921.17" r="5.55"/><circle cx="569.32" cy="874.5" r="5.55"/><circle cx="572.31" cy="876.36" r="5.55"/><circle cx="575.86" cy="876.26" r="5.55"/><circle cx="579.71" cy="876.15" r="5.55"/><circle cx="577.18" cy="870.47" r="5.55"/><circle cx="581.01" cy="867.61" r="5.55"/><circle cx="582.86" cy="869.39" r="5.55"/><circle cx="572.31" cy="880.19" r="5.55"/><circle cx="573.14" cy="883.4" r="5.55"/><circle cx="564.82" cy="885.55" r="5.55"/><circle cx="566.58" cy="888.8" r="5.55"/><circle cx="564.82" cy="894.8" r="5.55"/><circle cx="569.32" cy="891.49" r="5.55"/><circle cx="573.14" cy="887.78" r="5.55"/><circle cx="573.14" cy="891.98" r="5.55"/><circle cx="572.31" cy="896.62" r="5.55"/><circle cx="579.51" cy="882.92" r="5.55"/><circle cx="582.34" cy="884.06" r="5.55"/><circle cx="579.9" cy="891.7" r="5.55"/><circle cx="583.23" cy="891.49" r="5.55"/><circle cx="586.46" cy="890.39" r="5.55"/><circle cx="589.17" cy="891.98" r="5.55"/><circle cx="589.17" cy="886.75" r="5.55"/><circle cx="589.17" cy="883.4" r="5.55"/><circle cx="592.12" cy="889.84" r="5.55"/><circle cx="594.36" cy="891.49" r="5.55"/><circle cx="598.04" cy="895.4" r="5.55"/><circle cx="599.51" cy="901.01" r="5.55"/><circle cx="591.5" cy="900.68" r="5.55"/><circle cx="593.59" cy="902.96" r="5.55"/><circle cx="579.12" cy="901.01" r="5.55"/><circle cx="581.01" cy="904.36" r="5.55"/><circle cx="582.86" cy="907.18" r="5.55"/><circle cx="586.28" cy="904.72" r="5.55"/><circle cx="577.98" cy="921.78" r="5.55"/><circle cx="567.1" cy="916.76" r="5.55"/><circle cx="569.77" cy="912.58" r="5.55"/><circle cx="572.31" cy="907.94" r="5.55"/><circle cx="574.41" cy="906.44" r="5.55"/><circle cx="573.14" cy="902.28" r="5.55"/><circle cx="562.89" cy="904.99" r="5.55"/><circle cx="559.52" cy="906.44" r="5.55"/><circle cx="555.93" cy="907.18" r="5.55"/><circle cx="566.17" cy="908.65" r="5.55"/><circle cx="587.48" cy="875.11" r="5.55"/><circle cx="589.52" cy="870.14" r="5.55"/><circle cx="593.72" cy="869.39" r="5.55"/><circle cx="589.86" cy="867.25" r="5.55"/><circle cx="592.78" cy="876.36" r="5.55"/><circle cx="590.49" cy="879.74" r="5.55"/><circle cx="598.04" cy="875.11" r="5.55"/><circle cx="599.51" cy="872.74" r="5.55"/><circle cx="597.12" cy="882.92" r="5.55"/><circle cx="600.09" cy="879.74" r="5.55"/><circle cx="603.48" cy="884.8" r="5.55"/><circle cx="606.2" cy="885.8" r="5.55"/><circle cx="607.53" cy="881.98" r="5.55"/><circle cx="605.69" cy="876.73" r="5.55"/><circle cx="602.95" cy="867.25" r="5.55"/><circle cx="608.33" cy="867.25" r="5.55"/><circle cx="634.19" cy="871.62" r="5.55"/><circle cx="634" cy="876.36" r="5.55"/><circle cx="626.63" cy="870.66" r="5.55"/><circle cx="624.79" cy="876.36" r="5.55"/><circle cx="625.82" cy="874.7" r="5.55"/><circle cx="629.25" cy="877.59" r="5.55"/><circle cx="628.26" cy="880.42" r="5.55"/><circle cx="629.63" cy="885.8" r="5.55"/><circle cx="613.54" cy="885.8" r="5.55"/><circle cx="615.22" cy="884.55" r="5.55"/><circle cx="618.14" cy="881.74" r="5.55"/><circle cx="618.92" cy="876.73" r="5.55"/><circle cx="619.39" cy="871.62" r="5.55"/><circle cx="623.52" cy="865.54" r="5.55"/><circle cx="625.82" cy="865.54" r="5.55"/><circle cx="614.28" cy="877.59" r="5.55"/><circle cx="609.81" cy="878.85" r="5.55"/><circle cx="579.51" cy="854.45" r="5.55"/><circle cx="581.96" cy="856.82" r="5.55"/><circle cx="587.48" cy="853.61" r="5.55"/><circle cx="593.11" cy="852.96" r="5.55"/><circle cx="595.44" cy="854.59" r="5.55"/><circle cx="595.91" cy="848.34" r="5.55"/><circle cx="601.8" cy="840.16" r="5.55"/><circle cx="601.8" cy="843.53" r="5.55"/><circle cx="606.88" cy="839.01" r="5.55"/><circle cx="609.26" cy="836.53" r="5.55"/><circle cx="604.59" cy="849.83" r="5.55"/><circle cx="607.8" cy="847.37" r="5.55"/><circle cx="600.37" cy="854.31" r="5.55"/><circle cx="604.59" cy="852.96" r="5.55"/><circle cx="607.02" cy="854.03" r="5.55"/><circle cx="592.78" cy="857.71" r="5.55"/><circle cx="589.52" cy="859.5" r="5.55"/><circle cx="586.77" cy="860.39" r="5.55"/><circle cx="583.97" cy="861.31" r="5.55"/><circle cx="581.39" cy="862.6" r="5.55"/><circle cx="581.01" cy="865.89" r="5.55"/><circle cx="589.86" cy="866.24" r="5.55"/><circle cx="590.83" cy="862.91" r="5.55"/><circle cx="594.04" cy="860.71" r="5.55"/><circle cx="597.12" cy="858.28" r="5.55"/><circle cx="595.59" cy="863.88" r="5.55"/><circle cx="599.51" cy="863.88" r="5.55"/><circle cx="601.54" cy="861.31" r="5.55"/><circle cx="602.66" cy="857.71" r="5.55"/><circle cx="604.59" cy="863.88" r="5.55"/><circle cx="605.69" cy="856.27" r="5.55"/><circle cx="607.8" cy="856.82" r="5.55"/><circle cx="608.33" cy="865.89" r="5.55"/><circle cx="609.09" cy="860.71" r="5.55"/><circle cx="601.8" cy="866.54" r="5.55"/><circle cx="612.57" cy="839.62" r="5.55"/><circle cx="615.93" cy="838.41" r="5.55"/><circle cx="618.14" cy="833.15" r="5.55"/><circle cx="624.57" cy="839.01" r="5.55"/><circle cx="626.53" cy="839.62" r="5.55"/><circle cx="638.41" cy="835.45" r="5.55"/><circle cx="613.91" cy="842.76" r="5.55"/><circle cx="616.52" cy="842.76" r="5.55"/><circle cx="618.46" cy="843.53" r="5.55"/><circle cx="620.27" cy="844.11" r="5.55"/><circle cx="618.26" cy="846.3" r="5.55"/><circle cx="612.82" cy="845.58" r="5.55"/><circle cx="613.19" cy="848.34" r="5.55"/><circle cx="609.81" cy="846.76" r="5.55"/><circle cx="623.1" cy="842.08" r="5.55"/><circle cx="623.95" cy="842.53" r="5.55"/><circle cx="624.36" cy="844.31" r="5.55"/><circle cx="625.4" cy="845.48" r="5.55"/><circle cx="623.52" cy="846.18" r="5.55"/><circle cx="621.82" cy="847.37" r="5.55"/><circle cx="621.59" cy="850.61" r="5.55"/><circle cx="628.26" cy="842.76" r="5.55"/><circle cx="628.74" cy="845.58" r="5.55"/><circle cx="632.04" cy="845.48" r="5.55"/><circle cx="634.1" cy="847.62" r="5.55"/><circle cx="616.52" cy="852.04" r="5.55"/><circle cx="610.33" cy="851.91" r="5.55"/><circle cx="626.84" cy="852.14" r="5.55"/><circle cx="629.04" cy="852.96" r="5.55"/><circle cx="626.24" cy="855.12" r="5.55"/><circle cx="628.05" cy="855.41" r="5.55"/><circle cx="627.75" cy="859.61" r="5.55"/><circle cx="633.07" cy="859.61" r="5.55"/><circle cx="637.96" cy="863.38" r="5.55"/><circle cx="639.56" cy="851.31" r="5.55"/><circle cx="619.82" cy="853.49" r="5.55"/><circle cx="620.5" cy="855.7" r="5.55"/><circle cx="618.26" cy="856.82" r="5.55"/><circle cx="616.4" cy="859.5" r="5.55"/><circle cx="612.57" cy="855.12" r="5.55"/><circle cx="623.52" cy="858.58" r="5.55"/><circle cx="622.67" cy="861.63" r="5.55"/><circle cx="620.5" cy="861.63" r="5.55"/><circle cx="608.6" cy="856.79" r="5.55"/><circle cx="607.26" cy="859.81" r="5.55"/><circle cx="611.2" cy="859.81" r="5.55"/><circle cx="609.91" cy="863.01" r="5.55"/><circle cx="613.41" cy="864.56" r="5.55"/><circle cx="615.56" cy="866.24" r="5.55"/><circle cx="617.14" cy="822.26" r="5.55"/><circle cx="627.26" cy="824.53" r="5.55"/><circle cx="640.41" cy="824.98" r="5.55"/><circle cx="637.49" cy="832.63" r="5.55"/><circle cx="640.88" cy="863.34" r="5.55"/><circle cx="622.29" cy="862.8" r="5.55"/><circle cx="606.2" cy="857.3" r="5.55"/><circle cx="585.75" cy="861.23" r="5.55"/><circle cx="583.23" cy="862.8" r="5.55"/><circle cx="592.12" cy="862.48" r="5.55"/><circle cx="610.36" cy="867.48" r="5.55"/><circle cx="611.87" cy="862.8" r="5.55"/><circle cx="613.85" cy="865.43" r="5.55"/><circle cx="615.5" cy="868.2" r="5.55"/><circle cx="617.14" cy="871.11" r="5.55"/><circle cx="614.31" cy="873.39" r="5.55"/><circle cx="610.88" cy="874.96" r="5.55"/><circle cx="600.09" cy="882.27" r="5.55"/><circle cx="594.68" cy="879.63" r="5.55"/><circle cx="592.12" cy="882.27" r="5.55"/><circle cx="588.83" cy="884.65" r="5.55"/><circle cx="592.12" cy="875.01" r="5.55"/><circle cx="590.83" cy="878.3" r="5.55"/><circle cx="597.73" cy="876.2" r="5.55"/><circle cx="603.48" cy="869.62" r="5.55"/><circle cx="605.13" cy="872.64" r="5.55"/><circle cx="608.84" cy="873.39" r="5.55"/><circle cx="591.5" cy="891.28" r="5.55"/><circle cx="598.91" cy="856.46" r="5.55"/><circle cx="602.38" cy="855.88" r="5.55"/><circle cx="597.42" cy="860.91" r="5.55"/><circle cx="600.09" cy="861.55" r="5.55"/><circle cx="595.3" cy="860.3" r="5.55"/><circle cx="604.05" cy="857.3" r="5.55"/><circle cx="610.88" cy="861.87" r="5.55"/><circle cx="614.8" cy="866.81" r="5.55"/><circle cx="616.22" cy="869.62" r="5.55"/><circle cx="612.86" cy="858.2" r="5.55"/><circle cx="614.31" cy="860.91" r="5.55"/><circle cx="602.38" cy="868.2" r="5.55"/><circle cx="604.05" cy="871.11" r="5.55"/><circle cx="601.8" cy="871.11" r="5.55"/><circle cx="605.69" cy="874.19" r="5.55"/><circle cx="607.8" cy="876.63" r="5.55"/><circle cx="604.05" cy="877.46" r="5.55"/><circle cx="601.8" cy="877.46" r="5.55"/><circle cx="606.2" cy="879.63" r="5.55"/><circle cx="608.33" cy="880.02" r="5.55"/><circle cx="610.36" cy="877.46" r="5.55"/><circle cx="612.38" cy="876.63" r="5.55"/><circle cx="609.35" cy="882.74" r="5.55"/><circle cx="605.13" cy="882.74" r="5.55"/><circle cx="602.38" cy="882.74" r="5.55"/><circle cx="598.34" cy="878.3" r="5.55"/><circle cx="596.53" cy="880.02" r="5.55"/><circle cx="588.83" cy="877.46" r="5.55"/><circle cx="593.11" cy="877.46" r="5.55"/><circle cx="590.83" cy="870.37" r="5.55"/><circle cx="592.12" cy="872.64" r="5.55"/><circle cx="587.83" cy="872.64" r="5.55"/><circle cx="615.74" cy="875.37" r="5.55"/><circle cx="616.9" cy="878.3" r="5.55"/><circle cx="614.18" cy="862.39" r="5.55"/><circle cx="627.64" cy="853.89" r="5.55"/><circle cx="597.73" cy="856.17" r="5.55"/><circle cx="600.09" cy="858.2" r="5.55"/><circle cx="609.35" cy="854.2" r="5.55"/><circle cx="619.18" cy="858.77" r="5.55"/><circle cx="621.62" cy="857.3" r="5.55"/><circle cx="614.55" cy="858.5" r="5.55"/><circle cx="605.96" cy="868.93" r="5.55"/><circle cx="607.8" cy="871.86" r="5.55"/></g>
<text x="18" y="721.7" font-size="33.4" font-weight="700" textLength="24.6" lengthAdjust="spacingAndGlyphs">C</text>
<text x="168.5" y="770.9" font-size="32.6" textLength="527.7" lengthAdjust="spacingAndGlyphs">Right gastrocnemius / Older / Male</text>
<text x="359.2" y="1323.2" font-size="33.2" textLength="170.3" lengthAdjust="spacingAndGlyphs">Log turns/s</text>
<text transform="translate(54.2 1142) rotate(-90)" font-size="33.2" textLength="257.5" lengthAdjust="spacingAndGlyphs">Log (mean ampl)</text>
<rect x="933.2" y="795.4" width="596.3" height="437.4" fill="none" stroke="#131313" stroke-width="3.0" stroke-linejoin="round"/>
<path d="M933.2 1232.8h-6.5M933.2 1159.9h-6.5M933.2 1087h-6.5M933.2 1014.1h-6.5M933.2 941.2h-6.5M933.2 868.3h-6.5M933.2 795.4h-6.5M933.2 1232.8v6.1M1012.71 1232.8v6.1M1092.21 1232.8v6.1M1171.72 1232.8v6.1M1251.23 1232.8v6.1M1330.73 1232.8v6.1M1410.24 1232.8v6.1M1489.75 1232.8v6.1" fill="none" stroke="#131313" stroke-width="1.4" stroke-linecap="round"/>
<text x="913.6" y="1242.65" font-size="27.6" font-weight="700" text-anchor="end" textLength="15.35" lengthAdjust="spacingAndGlyphs">0</text>
<text x="913.6" y="1169.75" font-size="27.6" font-weight="700" text-anchor="end" textLength="46.05" lengthAdjust="spacingAndGlyphs">500</text>
<text x="913.6" y="1096.85" font-size="27.6" font-weight="700" text-anchor="end" textLength="61.4" lengthAdjust="spacingAndGlyphs">1000</text>
<text x="913.6" y="1023.95" font-size="27.6" font-weight="700" text-anchor="end" textLength="61.4" lengthAdjust="spacingAndGlyphs">1500</text>
<text x="913.6" y="951.05" font-size="27.6" font-weight="700" text-anchor="end" textLength="61.4" lengthAdjust="spacingAndGlyphs">2000</text>
<text x="913.6" y="878.15" font-size="27.6" font-weight="700" text-anchor="end" textLength="61.4" lengthAdjust="spacingAndGlyphs">2500</text>
<text x="913.6" y="805.25" font-size="27.6" font-weight="700" text-anchor="end" textLength="61.4" lengthAdjust="spacingAndGlyphs">3000</text>
<text x="933.2" y="1278.6" font-size="27.6" font-weight="700" text-anchor="middle" textLength="15.35" lengthAdjust="spacingAndGlyphs">0</text>
<text x="1012.71" y="1278.6" font-size="27.6" font-weight="700" text-anchor="middle" textLength="46.05" lengthAdjust="spacingAndGlyphs">200</text>
<text x="1092.21" y="1278.6" font-size="27.6" font-weight="700" text-anchor="middle" textLength="46.05" lengthAdjust="spacingAndGlyphs">400</text>
<text x="1171.72" y="1278.6" font-size="27.6" font-weight="700" text-anchor="middle" textLength="46.05" lengthAdjust="spacingAndGlyphs">600</text>
<text x="1251.23" y="1278.6" font-size="27.6" font-weight="700" text-anchor="middle" textLength="46.05" lengthAdjust="spacingAndGlyphs">800</text>
<text x="1330.73" y="1278.6" font-size="27.6" font-weight="700" text-anchor="middle" textLength="61.4" lengthAdjust="spacingAndGlyphs">1000</text>
<text x="1410.24" y="1278.6" font-size="27.6" font-weight="700" text-anchor="middle" textLength="61.4" lengthAdjust="spacingAndGlyphs">1200</text>
<text x="1489.75" y="1278.6" font-size="27.6" font-weight="700" text-anchor="middle" textLength="61.4" lengthAdjust="spacingAndGlyphs">1400</text>
<g fill="#131313"><circle cx="973.7" cy="1211.58" r="5.55"/><circle cx="1022.75" cy="1206.97" r="5.55"/><circle cx="995.43" cy="1181.5" r="5.55"/><circle cx="1009.29" cy="1176.69" r="5.55"/><circle cx="1017.25" cy="1186.11" r="5.55"/><circle cx="1005.45" cy="1125.65" r="5.55"/><circle cx="1028.45" cy="1134.87" r="5.55"/><circle cx="1027.18" cy="1148.91" r="5.55"/><circle cx="1045.17" cy="1125.14" r="5.55"/><circle cx="1040.45" cy="1137.18" r="5.55"/><circle cx="1043.2" cy="1142.39" r="5.55"/><circle cx="1067.19" cy="1083.63" r="5.55"/><circle cx="1056.27" cy="1102.28" r="5.55"/><circle cx="1062.66" cy="1106.49" r="5.55"/><circle cx="1062.37" cy="1116.62" r="5.55"/><circle cx="1035.43" cy="1169.77" r="5.55"/><circle cx="1045.17" cy="1186.41" r="5.55"/><circle cx="1056.86" cy="1188.02" r="5.55"/><circle cx="1064.83" cy="1126.55" r="5.55"/><circle cx="1070.18" cy="1130.16" r="5.55"/><circle cx="1076.82" cy="1129.96" r="5.55"/><circle cx="1084.39" cy="1129.76" r="5.55"/><circle cx="1079.38" cy="1118.33" r="5.55"/><circle cx="1087.04" cy="1112.11" r="5.55"/><circle cx="1090.88" cy="1116.02" r="5.55"/><circle cx="1070.18" cy="1137.18" r="5.55"/><circle cx="1071.71" cy="1142.69" r="5.55"/><circle cx="1057.16" cy="1146.2" r="5.55"/><circle cx="1060.11" cy="1151.27" r="5.55"/><circle cx="1057.16" cy="1159.84" r="5.55"/><circle cx="1064.83" cy="1155.23" r="5.55"/><circle cx="1071.71" cy="1149.71" r="5.55"/><circle cx="1071.71" cy="1155.93" r="5.55"/><circle cx="1070.18" cy="1162.25" r="5.55"/><circle cx="1084" cy="1141.89" r="5.55"/><circle cx="1089.8" cy="1143.8" r="5.55"/><circle cx="1084.78" cy="1155.53" r="5.55"/><circle cx="1091.66" cy="1155.23" r="5.55"/><circle cx="1098.64" cy="1153.62" r="5.55"/><circle cx="1104.74" cy="1155.93" r="5.55"/><circle cx="1104.74" cy="1148.11" r="5.55"/><circle cx="1104.74" cy="1142.69" r="5.55"/><circle cx="1111.62" cy="1152.82" r="5.55"/><circle cx="1117.02" cy="1155.23" r="5.55"/><circle cx="1126.27" cy="1160.64" r="5.55"/><circle cx="1130.1" cy="1167.76" r="5.55"/><circle cx="1110.14" cy="1167.36" r="5.55"/><circle cx="1115.16" cy="1170.07" r="5.55"/><circle cx="1083.21" cy="1167.76" r="5.55"/><circle cx="1087.04" cy="1171.67" r="5.55"/><circle cx="1090.88" cy="1174.78" r="5.55"/><circle cx="1098.25" cy="1172.07" r="5.55"/><circle cx="1080.95" cy="1188.52" r="5.55"/><circle cx="1060.99" cy="1184.21" r="5.55"/><circle cx="1065.61" cy="1180.3" r="5.55"/><circle cx="1070.18" cy="1175.58" r="5.55"/><circle cx="1074.07" cy="1173.98" r="5.55"/><circle cx="1071.71" cy="1169.27" r="5.55"/><circle cx="1054.01" cy="1172.37" r="5.55"/><circle cx="1048.7" cy="1173.98" r="5.55"/><circle cx="1043.3" cy="1174.78" r="5.55"/><circle cx="1059.42" cy="1176.34" r="5.55"/><circle cx="1100.9" cy="1127.75" r="5.55"/><circle cx="1105.52" cy="1117.62" r="5.55"/><circle cx="1115.45" cy="1116.02" r="5.55"/><circle cx="1106.31" cy="1111.31" r="5.55"/><circle cx="1113.19" cy="1130.16" r="5.55"/><circle cx="1107.78" cy="1136.38" r="5.55"/><circle cx="1126.27" cy="1127.75" r="5.55"/><circle cx="1130.1" cy="1123.04" r="5.55"/><circle cx="1123.91" cy="1141.89" r="5.55"/><circle cx="1131.62" cy="1136.38" r="5.55"/><circle cx="1140.81" cy="1145" r="5.55"/><circle cx="1148.48" cy="1146.6" r="5.55"/><circle cx="1152.32" cy="1140.29" r="5.55"/><circle cx="1147.01" cy="1130.86" r="5.55"/><circle cx="1139.34" cy="1111.31" r="5.55"/><circle cx="1154.67" cy="1111.31" r="5.55"/><circle cx="1245.9" cy="1120.73" r="5.55"/><circle cx="1245.11" cy="1130.16" r="5.55"/><circle cx="1215.92" cy="1118.73" r="5.55"/><circle cx="1209.04" cy="1130.16" r="5.55"/><circle cx="1212.87" cy="1126.95" r="5.55"/><circle cx="1225.94" cy="1132.46" r="5.55"/><circle cx="1222.11" cy="1137.58" r="5.55"/><circle cx="1227.47" cy="1146.6" r="5.55"/><circle cx="1170.6" cy="1146.6" r="5.55"/><circle cx="1176.01" cy="1144.6" r="5.55"/><circle cx="1185.64" cy="1139.89" r="5.55"/><circle cx="1188.29" cy="1130.86" r="5.55"/><circle cx="1189.87" cy="1120.73" r="5.55"/><circle cx="1204.42" cy="1107.4" r="5.55"/><circle cx="1212.87" cy="1107.4" r="5.55"/><circle cx="1172.96" cy="1132.46" r="5.55"/><circle cx="1159.1" cy="1134.77" r="5.55"/><circle cx="1084" cy="1078.82" r="5.55"/><circle cx="1089.01" cy="1085.44" r="5.55"/><circle cx="1100.9" cy="1076.41" r="5.55"/><circle cx="1113.98" cy="1074.51" r="5.55"/><circle cx="1119.68" cy="1079.22" r="5.55"/><circle cx="1120.86" cy="1060.37" r="5.55"/><circle cx="1136.19" cy="1032.19" r="5.55"/><circle cx="1136.19" cy="1044.32" r="5.55"/><circle cx="1150.45" cy="1027.88" r="5.55"/><circle cx="1157.43" cy="1018.25" r="5.55"/><circle cx="1143.91" cy="1065.08" r="5.55"/><circle cx="1153.1" cy="1057.26" r="5.55"/><circle cx="1132.36" cy="1078.42" r="5.55"/><circle cx="1143.91" cy="1074.51" r="5.55"/><circle cx="1150.84" cy="1077.61" r="5.55"/><circle cx="1113.19" cy="1087.84" r="5.55"/><circle cx="1105.52" cy="1092.56" r="5.55"/><circle cx="1099.33" cy="1094.86" r="5.55"/><circle cx="1093.24" cy="1097.17" r="5.55"/><circle cx="1087.83" cy="1100.38" r="5.55"/><circle cx="1087.04" cy="1108.2" r="5.55"/><circle cx="1106.31" cy="1109" r="5.55"/><circle cx="1108.57" cy="1101.13" r="5.55"/><circle cx="1116.24" cy="1095.66" r="5.55"/><circle cx="1123.91" cy="1089.35" r="5.55"/><circle cx="1120.07" cy="1103.49" r="5.55"/><circle cx="1130.1" cy="1103.49" r="5.55"/><circle cx="1135.51" cy="1097.17" r="5.55"/><circle cx="1138.55" cy="1087.84" r="5.55"/><circle cx="1143.91" cy="1103.49" r="5.55"/><circle cx="1147.01" cy="1083.93" r="5.55"/><circle cx="1153.1" cy="1085.44" r="5.55"/><circle cx="1154.67" cy="1108.2" r="5.55"/><circle cx="1156.94" cy="1095.66" r="5.55"/><circle cx="1136.19" cy="1109.7" r="5.55"/><circle cx="1167.55" cy="1030.18" r="5.55"/><circle cx="1178.32" cy="1025.57" r="5.55"/><circle cx="1185.64" cy="1004.41" r="5.55"/><circle cx="1208.25" cy="1027.88" r="5.55"/><circle cx="1215.52" cy="1030.18" r="5.55"/><circle cx="1263.99" cy="1013.94" r="5.55"/><circle cx="1171.78" cy="1041.62" r="5.55"/><circle cx="1180.23" cy="1041.62" r="5.55"/><circle cx="1186.72" cy="1044.32" r="5.55"/><circle cx="1192.91" cy="1046.33" r="5.55"/><circle cx="1186.03" cy="1053.75" r="5.55"/><circle cx="1168.34" cy="1051.34" r="5.55"/><circle cx="1169.52" cy="1060.37" r="5.55"/><circle cx="1159.1" cy="1055.25" r="5.55"/><circle cx="1202.89" cy="1039.21" r="5.55"/><circle cx="1205.99" cy="1040.81" r="5.55"/><circle cx="1207.46" cy="1047.03" r="5.55"/><circle cx="1211.3" cy="1050.99" r="5.55"/><circle cx="1204.42" cy="1053.35" r="5.55"/><circle cx="1198.32" cy="1057.26" r="5.55"/><circle cx="1197.53" cy="1067.49" r="5.55"/><circle cx="1222.11" cy="1041.62" r="5.55"/><circle cx="1223.98" cy="1051.34" r="5.55"/><circle cx="1237.05" cy="1050.99" r="5.55"/><circle cx="1245.51" cy="1058.06" r="5.55"/><circle cx="1180.23" cy="1071.8" r="5.55"/><circle cx="1160.67" cy="1071.4" r="5.55"/><circle cx="1216.7" cy="1072.1" r="5.55"/><circle cx="1225.16" cy="1074.51" r="5.55"/><circle cx="1214.44" cy="1080.72" r="5.55"/><circle cx="1221.32" cy="1081.52" r="5.55"/><circle cx="1220.14" cy="1092.86" r="5.55"/><circle cx="1241.28" cy="1092.86" r="5.55"/><circle cx="1262.02" cy="1102.28" r="5.55"/><circle cx="1269.1" cy="1069.59" r="5.55"/><circle cx="1191.34" cy="1076.06" r="5.55"/><circle cx="1193.7" cy="1082.33" r="5.55"/><circle cx="1186.03" cy="1085.44" r="5.55"/><circle cx="1179.84" cy="1092.56" r="5.55"/><circle cx="1167.55" cy="1080.72" r="5.55"/><circle cx="1204.42" cy="1090.15" r="5.55"/><circle cx="1201.37" cy="1097.97" r="5.55"/><circle cx="1193.7" cy="1097.97" r="5.55"/><circle cx="1155.46" cy="1085.34" r="5.55"/><circle cx="1151.53" cy="1093.36" r="5.55"/><circle cx="1163.33" cy="1093.36" r="5.55"/><circle cx="1159.39" cy="1101.38" r="5.55"/><circle cx="1170.21" cy="1105.09" r="5.55"/><circle cx="1177.09" cy="1109" r="5.55"/><circle cx="1182.3" cy="953.37" r="5.55"/><circle cx="1218.28" cy="964.91" r="5.55"/><circle cx="1272.93" cy="967.11" r="5.55"/><circle cx="1259.96" cy="1002.21" r="5.55"/><circle cx="1275.09" cy="1102.18" r="5.55"/><circle cx="1199.99" cy="1100.88" r="5.55"/><circle cx="1148.48" cy="1086.74" r="5.55"/><circle cx="1097.07" cy="1096.97" r="5.55"/><circle cx="1091.66" cy="1100.88" r="5.55"/><circle cx="1111.62" cy="1100.08" r="5.55"/><circle cx="1160.77" cy="1111.81" r="5.55"/><circle cx="1165.39" cy="1100.88" r="5.55"/><circle cx="1171.58" cy="1107.15" r="5.55"/><circle cx="1176.89" cy="1113.41" r="5.55"/><circle cx="1182.3" cy="1119.68" r="5.55"/><circle cx="1173.06" cy="1124.34" r="5.55"/><circle cx="1162.34" cy="1127.45" r="5.55"/><circle cx="1131.62" cy="1140.79" r="5.55"/><circle cx="1117.81" cy="1136.17" r="5.55"/><circle cx="1111.62" cy="1140.79" r="5.55"/><circle cx="1103.95" cy="1144.75" r="5.55"/><circle cx="1111.62" cy="1127.55" r="5.55"/><circle cx="1108.57" cy="1133.77" r="5.55"/><circle cx="1125.48" cy="1129.86" r="5.55"/><circle cx="1140.81" cy="1116.52" r="5.55"/><circle cx="1145.43" cy="1122.84" r="5.55"/><circle cx="1156.2" cy="1124.34" r="5.55"/><circle cx="1110.14" cy="1154.93" r="5.55"/><circle cx="1128.53" cy="1084.43" r="5.55"/><circle cx="1137.77" cy="1082.83" r="5.55"/><circle cx="1124.69" cy="1096.17" r="5.55"/><circle cx="1131.62" cy="1097.77" r="5.55"/><circle cx="1119.33" cy="1094.61" r="5.55"/><circle cx="1142.39" cy="1086.74" r="5.55"/><circle cx="1162.34" cy="1098.57" r="5.55"/><circle cx="1174.63" cy="1110.3" r="5.55"/><circle cx="1179.25" cy="1116.52" r="5.55"/><circle cx="1168.49" cy="1089.15" r="5.55"/><circle cx="1173.06" cy="1096.17" r="5.55"/><circle cx="1137.77" cy="1113.41" r="5.55"/><circle cx="1142.39" cy="1119.68" r="5.55"/><circle cx="1136.19" cy="1119.68" r="5.55"/><circle cx="1147.01" cy="1125.95" r="5.55"/><circle cx="1153.1" cy="1130.66" r="5.55"/><circle cx="1142.39" cy="1132.21" r="5.55"/><circle cx="1136.19" cy="1132.21" r="5.55"/><circle cx="1148.48" cy="1136.17" r="5.55"/><circle cx="1154.67" cy="1136.88" r="5.55"/><circle cx="1160.77" cy="1132.21" r="5.55"/><circle cx="1166.96" cy="1130.66" r="5.55"/><circle cx="1157.72" cy="1141.59" r="5.55"/><circle cx="1145.43" cy="1141.59" r="5.55"/><circle cx="1137.77" cy="1141.59" r="5.55"/><circle cx="1127.05" cy="1133.77" r="5.55"/><circle cx="1122.43" cy="1136.88" r="5.55"/><circle cx="1103.95" cy="1132.21" r="5.55"/><circle cx="1113.98" cy="1132.21" r="5.55"/><circle cx="1108.57" cy="1118.13" r="5.55"/><circle cx="1111.62" cy="1122.84" r="5.55"/><circle cx="1101.69" cy="1122.84" r="5.55"/><circle cx="1177.68" cy="1128.25" r="5.55"/><circle cx="1181.51" cy="1133.77" r="5.55"/><circle cx="1172.66" cy="1099.88" r="5.55"/><circle cx="1219.75" cy="1077.21" r="5.55"/><circle cx="1125.48" cy="1083.63" r="5.55"/><circle cx="1131.62" cy="1089.15" r="5.55"/><circle cx="1157.72" cy="1078.12" r="5.55"/><circle cx="1189.18" cy="1090.65" r="5.55"/><circle cx="1197.63" cy="1086.74" r="5.55"/><circle cx="1173.84" cy="1089.95" r="5.55"/><circle cx="1147.79" cy="1115.02" r="5.55"/><circle cx="1153.1" cy="1121.23" r="5.55"/></g>
<path d="M933.2 1232.8L953.06 1206.61L972.92 1182.89L992.78 1160.03L1012.64 1137.71L1032.49 1115.78L1052.35 1094.16L1072.21 1072.79L1092.07 1051.63L1111.93 1030.66L1131.79 1009.84L1151.65 989.18L1171.51 968.65L1191.36 948.23L1211.22 927.93L1231.08 907.73L1250.94 887.62L1270.8 867.8L1270.8 1146.4L1250.94 1150.02L1231.08 1153.81L1211.22 1157.68L1191.36 1161.62L1171.51 1165.64L1151.65 1169.76L1131.79 1173.98L1111.93 1178.32L1092.07 1182.79L1072.21 1187.41L1052.35 1192.23L1032.49 1197.26L1012.64 1202.58L992.78 1208.29L972.92 1214.55L953.06 1221.77L933.2 1232.8" stroke="#131313" stroke-width="2.4" fill="none" stroke-linejoin="miter"/>
<text x="832.4" y="721.7" font-size="33.4" font-weight="700" textLength="25.6" lengthAdjust="spacingAndGlyphs">D</text>
<text x="959.7" y="758.8" font-size="32.6" textLength="532.1" lengthAdjust="spacingAndGlyphs">Right grastrocnemius / Older / Male</text>
<text x="1174.2" y="1330.1" font-size="33.2" textLength="113.9" lengthAdjust="spacingAndGlyphs">Turns/s</text>
<text transform="translate(831.9 1127.8) rotate(-90)" font-size="33.2" textLength="224.6" lengthAdjust="spacingAndGlyphs">Mean ampl, uv</text>
</svg>
</body>
</html>
